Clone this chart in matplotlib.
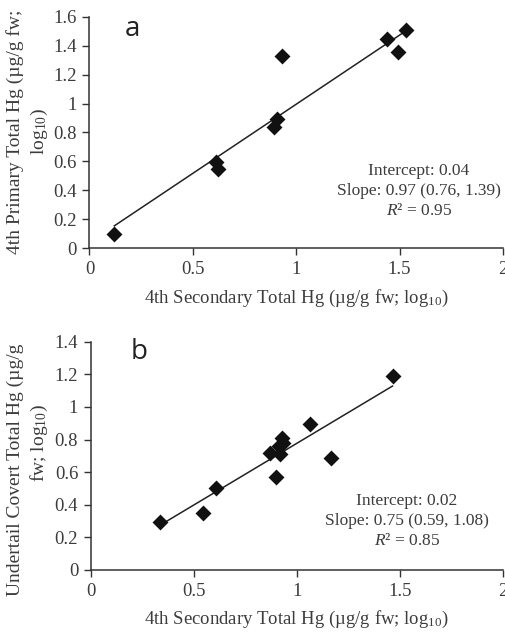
import matplotlib
matplotlib.use("Agg")
import matplotlib.pyplot as plt

plt.rcParams['font.family'] = ['Liberation Serif', 'DejaVu Serif']
plt.rcParams['mathtext.fontset'] = 'custom'
plt.rcParams['mathtext.rm'] = 'Liberation Serif'
plt.rcParams['mathtext.it'] = 'Liberation Serif:italic'

# Panel a data
a_x = [0.12, 0.61, 0.62, 0.89, 0.905, 0.93, 1.44, 1.49, 1.53]
a_y = [0.10, 0.595, 0.545, 0.835, 0.89, 1.33, 1.445, 1.355, 1.51]
a_line_x = [0.12, 1.525]
a_line_y = [0.155, 1.497]
a_text = ["Intercept: 0.04", "Slope: 0.97 (0.76, 1.39)", "$\\mathit{R}$² = 0.95"]

# Panel b data
b_x = [0.336, 0.546, 0.607, 0.868, 0.901, 0.915, 0.92, 0.928, 0.934, 1.066, 1.168, 1.464]
b_y = [0.296, 0.35, 0.502, 0.716, 0.568, 0.76, 0.709, 0.807, 0.779, 0.895, 0.686, 1.187]
b_line_x = [0.35, 1.464]
b_line_y = [0.285, 1.128]
b_text = ["Intercept: 0.02", "Slope: 0.75 (0.59, 1.08)", "$\\mathit{R}$² = 0.85"]

x_ticks = [0, 0.5, 1, 1.5, 2]
x_ticklabels = ["0", "0.5", "1", "1.5", "2"]
a_yticks = [0, 0.2, 0.4, 0.6, 0.8, 1.0, 1.2, 1.4, 1.6]
a_yticklabels = ["0", "0.2", "0.4", "0.6", "0.8", "1", "1.2", "1.4", "1.6"]
b_yticks = [0, 0.2, 0.4, 0.6, 0.8, 1.0, 1.2, 1.4]
b_yticklabels = ["0", "0.2", "0.4", "0.6", "0.8", "1", "1.2", "1.4"]

xlabel = "4th Secondary Total Hg (µg/g fw; log$_{10}$)"
a_ylabel = ["4th Primary Total Hg (µg/g fw;", "log$_{10}$)"]
b_ylabel = ["Undertail Covert Total Hg (µg/g", "fw; log$_{10}$)"]

W, H = 506, 635
fig = plt.figure(figsize=(W / 100, H / 100), dpi=100)
txt = '#3c3c3c'


def fx(p):
    return p / W


def fy(p):
    return 1 - p / H


def panel(rect, xs, ys, lx, ly, yticks, ylabs, ymax, ylabel, ylabel_pos,
          letter, ann, ann_xy, letter_xy):
    ax = fig.add_axes(rect)
    ax.scatter(xs, ys, marker='D', s=66, color='#111111', zorder=3, linewidths=0)
    ax.plot(lx, ly, color='#222222', lw=1.1, zorder=2)
    ax.set_xlim(0, 2)
    ax.set_ylim(0, ymax)
    ax.set_xticks(x_ticks)
    ax.set_xticklabels(x_ticklabels)
    ax.set_yticks(yticks)
    ax.set_yticklabels(ylabs)
    for s in ['top', 'right']:
        ax.spines[s].set_visible(False)
    for s in ['left', 'bottom']:
        ax.spines[s].set_color('#333333')
        ax.spines[s].set_linewidth(1.1)
    ax.tick_params(direction='out', length=5, width=1.0, color='#333333',
                   labelsize=13.5, labelcolor=txt, pad=4)
    ax.set_xlabel(xlabel, fontsize=13.5, color=txt, labelpad=7)
    for line, (px, py) in zip(ylabel, ylabel_pos):
        fig.text(fx(px), fy(py), line, rotation=90, fontsize=14, color=txt,
                 ha='center', va='center')
    fig.text(letter_xy[0], letter_xy[1], letter, fontsize=20, family='Open Sans',
             color='#222222', ha='center', va='center')
    fig.text(ann_xy[0], ann_xy[1], "\n".join(ann), fontsize=12.5, color=txt,
             ha='center', va='top', linespacing=1.32)
    return ax


# panel a: left 89.5, right 503, top 16.7, bottom 248.3
panel([fx(89.5), fy(248.3), fx(503 - 89.5), (248.3 - 16.7) / H],
      a_x, a_y, a_line_x, a_line_y, a_yticks, a_yticklabels, 1.6,
      a_ylabel, [(15, 132), (39, 132)], 'a', a_text,
      (fx(419), fy(163)), (fx(132), fy(29)))

# panel b: left 90.7, right 503, top 341.7, bottom 570
panel([fx(90.7), fy(570), fx(503 - 90.7), (570 - 341.7) / H],
      b_x, b_y, b_line_x, b_line_y, b_yticks, b_yticklabels, 1.4,
      b_ylabel, [(15, 470), (39, 443)], 'b', b_text,
      (fx(407), fy(493)), (fx(139), fy(352)))

fig.savefig("out.png", dpi=100, facecolor='white')
